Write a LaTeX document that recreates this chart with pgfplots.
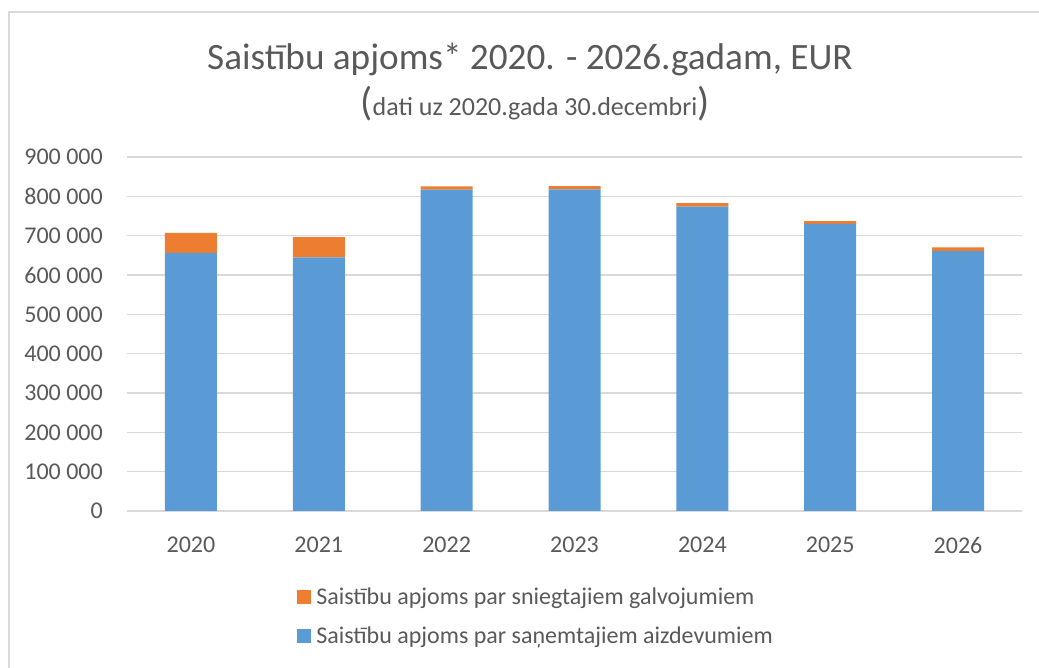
\documentclass[border=0pt]{standalone}
\usepackage{pgfplots}
\pgfplotsset{compat=1.18}
\usetikzlibrary{calc}
\usepackage{fontspec}
\setmainfont{Carlito}
\definecolor{cblue}{HTML}{5B9BD5}
\definecolor{corange}{HTML}{ED7D31}
\definecolor{ctext}{HTML}{595959}
\definecolor{cgrid}{HTML}{D9D9D9}
\begin{document}
\begin{tikzpicture}[x=1pt,y=1pt]
\begin{axis}[
  scale only axis, width=895pt, height=354pt,
  ybar stacked, bar width=52pt,
  xmin=-0.5, xmax=6.5, ymin=0, ymax=900000,
  axis x line*=bottom, axis y line*=left,
  y axis line style={draw=none},
  x axis line style={draw=cgrid, line width=1.3pt},
  ymajorgrids, grid style={cgrid, line width=1.3pt},
  major tick length=0pt,
  xtick={0,1,2,3,4,5,6},
  xticklabels={2020,2021,2022,2023,2024,2025,2026},
  ytick={0,100000,200000,300000,400000,500000,600000,700000,800000,900000},
  yticklabels={0,100 000,200 000,300 000,400 000,500 000,600 000,700 000,800 000,900 000},
  scaled y ticks=false,
  tick label style={text=ctext, font=\fontsize{24}{28}\selectfont, inner sep=0pt},
  yticklabel style={anchor=east, xshift=-24pt},
  xticklabel style={anchor=north, yshift=-26pt},
  reverse legend,
  legend cell align=left,
  legend style={at={(0.19,-0.216)}, anchor=north west, draw=none, fill=none,
    font=\fontsize{24}{28}\selectfont, text=ctext, row sep=21pt,
    inner sep=0pt, nodes={inner sep=0pt, anchor=west},
    /tikz/every odd column/.append style={column sep=5pt}},
]
\addplot[fill=cblue, draw=none, legend image code/.code={\fill[cblue] (0pt,-7pt) rectangle (14pt,7pt);}] coordinates {(0,656000) (1,645000) (2,817000) (3,818000) (4,774000) (5,730000) (6,661000)};
\addplot[fill=corange, draw=none, legend image code/.code={\fill[corange] (0pt,-7pt) rectangle (14pt,7pt);}] coordinates {(0,51000) (1,51000) (2,8000) (3,8000) (4,9000) (5,7000) (6,9000)};
\legend{Saistību apjoms par saņemtajiem aizdevumiem, Saistību apjoms par sniegtajiem galvojumiem}
\coordinate (O) at (rel axis cs:0,0);
\end{axis}
\draw[cgrid, line width=2pt] ($(O)+(918,498.5)$) -- ($(O)+(-118,498.5)$) -- ($(O)+(-118,-165)$);
\node[ctext, font=\fontsize{37.2}{40}\selectfont, anchor=base, inner sep=0] at ($(O)+(403,441)$) {Saistību apjoms* 2020. - 2026.gadam, EUR};
\node[ctext, anchor=base, inner sep=0] at ($(O)+(408,395)$) {{\fontsize{40}{42}\selectfont(}{\fontsize{26}{30}\selectfont dati uz 2020.gada 30.decembri}{\fontsize{40}{42}\selectfont)}};
\pgfresetboundingbox
\path[use as bounding box] ($(O)+(-127,-157)$) rectangle ($(O)+(912,511)$);
\end{tikzpicture}
\end{document}
